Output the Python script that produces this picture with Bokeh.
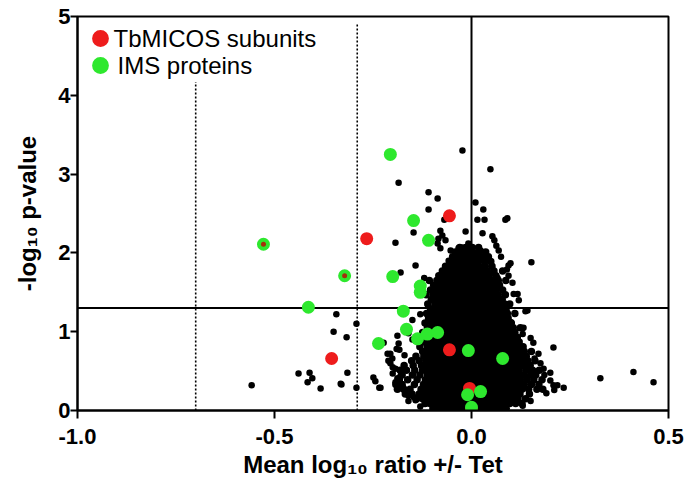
from bokeh.plotting import figure
from bokeh.models import Span, Legend, LegendItem, FixedTicker, Range1d, CustomJSTickFormatter, Label
from bokeh.embed import file_html
from bokeh.resources import INLINE

# ---------------- data ----------------
X_TICKS = [-1.0, -0.5, 0.0, 0.5]
Y_TICKS = [0, 1, 2, 3, 4, 5]
P_THRESHOLD = 1.3           # -log10(0.05)
FC_LINES_X = [-0.7, -0.29]  # dotted ratio thresholds
FC_LINES_TOP = [4.17, 4.92]
LEGEND_LABELS = ["TbMICOS subunits", "IMS proteins"]

# dense cloud of all detected proteins, listed row by row (y, [x ...])
CLOUD_Y = [0.03, 0.09, 0.15, 0.21, 0.27, 0.33, 0.39, 0.45, 0.51, 0.57, 0.63, 0.69,
           0.75, 0.81, 0.87, 0.93, 0.99, 1.05, 1.11, 1.17, 1.23, 1.29, 1.35, 1.41,
           1.47, 1.53, 1.59, 1.65, 1.71, 1.77, 1.83, 1.89, 1.95, 2.01, 2.07]
CLOUD_X = [
    [-0.098, -0.083, -0.071, -0.058, -0.044, -0.031, -0.019, -0.006, 0.008, 0.021, 0.034, 0.047, 0.060, 0.073, 0.088],
    [-0.118, -0.104, -0.090, -0.077, -0.063, -0.050, -0.036, -0.024, -0.011, 0.002, 0.015, 0.028, 0.041, 0.055, 0.068, 0.082, 0.097, 0.112, 0.128],
    [-0.139, -0.124, -0.109, -0.096, -0.082, -0.069, -0.056, -0.043, -0.030, -0.017, -0.004, 0.009, 0.022, 0.036, 0.049, 0.062, 0.075, 0.089, 0.103, 0.118, 0.137],
    [-0.168, -0.151, -0.133, -0.119, -0.105, -0.091, -0.078, -0.064, -0.051, -0.038, -0.025, -0.012, 0.001, 0.014, 0.027, 0.040, 0.053, 0.067, 0.080, 0.094, 0.108, 0.123, 0.147],
    [-0.188, -0.172, -0.156, -0.128, -0.114, -0.100, -0.086, -0.073, -0.059, -0.046, -0.033, -0.020, -0.007, 0.006, 0.019, 0.032, 0.045, 0.058, 0.071, 0.085, 0.099, 0.113, 0.128, 0.145, 0.166, 0.181],
    [-0.192, -0.176, -0.145, -0.122, -0.108, -0.094, -0.081, -0.067, -0.054, -0.041, -0.028, -0.015, -0.002, 0.011, 0.024, 0.037, 0.050, 0.063, 0.076, 0.090, 0.104, 0.119, 0.134, 0.152, 0.171],
    [-0.183, -0.162, -0.138, -0.117, -0.103, -0.089, -0.075, -0.062, -0.049, -0.036, -0.023, -0.010, 0.003, 0.016, 0.029, 0.042, 0.055, 0.068, 0.081, 0.095, 0.109, 0.124, 0.141, 0.158, 0.179],
    [-0.176, -0.150, -0.131, -0.112, -0.098, -0.084, -0.070, -0.057, -0.044, -0.031, -0.018, -0.005, 0.008, 0.021, 0.034, 0.047, 0.060, 0.073, 0.087, 0.101, 0.116, 0.132, 0.150, 0.163],
    [-0.181, -0.165, -0.144, -0.124, -0.107, -0.093, -0.079, -0.065, -0.052, -0.039, -0.026, -0.013, 0.000, 0.013, 0.026, 0.039, 0.052, 0.065, 0.078, 0.092, 0.106, 0.121, 0.138, 0.155, 0.172],
    [-0.171, -0.148, -0.127, -0.111, -0.097, -0.083, -0.069, -0.056, -0.043, -0.030, -0.017, -0.004, 0.009, 0.022, 0.035, 0.048, 0.061, 0.074, 0.088, 0.102, 0.117, 0.133, 0.149],
    [-0.152, -0.133, -0.116, -0.101, -0.087, -0.073, -0.060, -0.047, -0.034, -0.021, -0.008, 0.005, 0.018, 0.031, 0.044, 0.057, 0.070, 0.084, 0.098, 0.112, 0.127, 0.143, 0.161],
    [-0.141, -0.121, -0.105, -0.091, -0.077, -0.064, -0.051, -0.038, -0.025, -0.012, 0.001, 0.014, 0.027, 0.040, 0.053, 0.066, 0.080, 0.094, 0.108, 0.122, 0.139],
    [-0.124, -0.108, -0.094, -0.080, -0.067, -0.054, -0.041, -0.028, -0.015, -0.002, 0.011, 0.024, 0.037, 0.050, 0.063, 0.077, 0.091, 0.105, 0.119, 0.134, 0.152],
    [-0.131, -0.112, -0.097, -0.083, -0.070, -0.057, -0.044, -0.031, -0.018, -0.005, 0.008, 0.021, 0.034, 0.047, 0.060, 0.074, 0.088, 0.102, 0.116, 0.131],
    [-0.122, -0.109, -0.093, -0.079, -0.066, -0.053, -0.040, -0.027, -0.014, -0.001, 0.012, 0.025, 0.038, 0.051, 0.064, 0.078, 0.092, 0.106, 0.121],
    [-0.118, -0.101, -0.086, -0.072, -0.059, -0.046, -0.033, -0.020, -0.007, 0.006, 0.019, 0.032, 0.045, 0.058, 0.071, 0.085, 0.099, 0.116],
    [-0.124, -0.107, -0.092, -0.077, -0.063, -0.050, -0.037, -0.024, -0.011, 0.002, 0.015, 0.028, 0.041, 0.054, 0.067, 0.081, 0.096, 0.110],
    [-0.112, -0.097, -0.083, -0.069, -0.056, -0.043, -0.030, -0.017, -0.004, 0.009, 0.022, 0.035, 0.048, 0.061, 0.075, 0.090, 0.106, 0.124],
    [-0.118, -0.101, -0.087, -0.073, -0.060, -0.047, -0.034, -0.021, -0.008, 0.005, 0.018, 0.031, 0.044, 0.057, 0.071, 0.085, 0.101],
    [-0.109, -0.094, -0.080, -0.066, -0.053, -0.040, -0.027, -0.014, -0.001, 0.012, 0.025, 0.038, 0.051, 0.065, 0.080, 0.093],
    [-0.114, -0.099, -0.085, -0.071, -0.058, -0.045, -0.032, -0.019, -0.006, 0.007, 0.020, 0.033, 0.046, 0.060, 0.075, 0.091, 0.110],
    [-0.104, -0.089, -0.075, -0.062, -0.049, -0.036, -0.023, -0.010, 0.003, 0.016, 0.029, 0.043, 0.058, 0.073, 0.088],
    [-0.111, -0.093, -0.079, -0.066, -0.053, -0.040, -0.027, -0.014, -0.001, 0.012, 0.025, 0.039, 0.054, 0.069, 0.084, 0.097],
    [-0.102, -0.086, -0.072, -0.059, -0.046, -0.033, -0.020, -0.007, 0.006, 0.019, 0.033, 0.047, 0.062, 0.078],
    [-0.115, -0.097, -0.081, -0.067, -0.054, -0.041, -0.028, -0.015, -0.002, 0.011, 0.024, 0.038, 0.053, 0.068, 0.086],
    [-0.104, -0.088, -0.074, -0.061, -0.048, -0.035, -0.022, -0.009, 0.004, 0.017, 0.031, 0.046, 0.062, 0.079],
    [-0.096, -0.080, -0.066, -0.053, -0.040, -0.027, -0.014, -0.001, 0.012, 0.026, 0.041, 0.057, 0.071],
    [-0.107, -0.088, -0.072, -0.058, -0.045, -0.032, -0.019, -0.006, 0.007, 0.021, 0.036, 0.052, 0.068, 0.087],
    [-0.083, -0.066, -0.052, -0.039, -0.026, -0.013, 0.000, 0.014, 0.029, 0.045, 0.062],
    [-0.074, -0.058, -0.044, -0.031, -0.018, -0.005, 0.009, 0.024, 0.040, 0.057, 0.079],
    [-0.066, -0.050, -0.036, -0.023, -0.010, 0.004, 0.019, 0.035, 0.052],
    [-0.055, -0.040, -0.026, -0.012, 0.002, 0.017, 0.033, 0.049],
    [-0.048, -0.033, -0.019, -0.005, 0.010, 0.026, 0.043],
    [-0.041, -0.026, -0.012, 0.003, 0.019, 0.036],
    [-0.030, -0.014, 0.002, 0.018],
]

# scattered proteins outside the dense cloud
OTHER_X = [-0.023, 0.048, -0.185, -0.109, -0.086, -0.109, 0.010, 0.030, 0.015, 0.033,
           0.086, -0.069, -0.147, -0.193, -0.015, 0.028, 0.053, 0.058, 0.063, 0.069,
           -0.079, -0.074, -0.084, -0.066, -0.086, -0.079, -0.053, -0.033, -0.023, -0.008,
           -0.003, -0.142, -0.058, -0.046, 0.023, 0.094, 0.152, 0.107, 0.137, 0.129,
           0.157, 0.208, 0.175, 0.183, 0.200, 0.218, 0.234, 0.327, 0.411, 0.462,
           -0.180, -0.317, -0.315, -0.332, -0.292, -0.249, -0.231, -0.109, -0.206, -0.201,
           -0.185, -0.183, -0.343, -0.350, -0.292, -0.439, -0.411, -0.404, -0.416, -0.383,
           -0.330, -0.244, -0.234, -0.211, -0.558, -0.223, -0.193, -0.188, -0.175, -0.160,
           -0.142, -0.188, -0.213, -0.206, -0.180, -0.193, -0.173, -0.147, 0.208, 0.132,
           0.117, 0.091, 0.099, 0.094, 0.104, 0.117, 0.142, 0.056, 0.066,
           -0.160, -0.150, 0.130, 0.150, -0.190, -0.170, 0.170, 0.160, -0.200, 0.185,
           0.200, 0.210, 0.190, -0.150, -0.130, 0.100, 0.120, -0.130, -0.120, 0.090,
           0.075, -0.200, -0.160, 0.150, 0.130, -0.130]
OTHER_Y = [3.30, 3.06, 2.89, 2.77, 2.69, 2.55, 2.64, 2.55, 2.42, 2.42,
           2.42, 2.42, 2.26, 2.13, 2.27, 2.25, 2.21, 2.16, 2.09, 2.03,
           2.28, 2.22, 2.18, 2.16, 2.12, 2.06, 2.03, 2.06, 2.07, 2.12,
           2.03, 1.84, 1.90, 1.87, 2.03, 1.84, 1.88, 1.48, 1.26, 1.04,
           0.86, 0.80, 0.60, 0.53, 0.48, 0.32, 0.29, 0.41, 0.49, 0.36,
           1.75, 0.93, 0.48, 0.34, 0.29, 0.42, 0.29, 0.09, 0.72, 0.66,
           0.85, 0.77, 1.22, 1.00, 1.10, 0.47, 0.48, 0.41, 0.36, 0.28,
           0.33, 0.37, 0.29, 0.63, 0.32, 0.86, 0.53, 0.41, 0.28, 0.19,
           0.13, 0.95, 0.72, 0.60, 0.44, 0.36, 0.29, 0.17, 0.32, 1.05,
           0.93, 2.44, 1.87, 1.71, 1.62, 1.48, 1.27, 1.75, 1.68,
           0.98, 0.90, 0.97, 0.92, 0.78, 0.70, 0.72, 0.66, 0.47, 0.45,
           0.38, 0.26, 0.22, 1.15, 1.22, 1.12, 1.40, 1.55, 1.68, 1.79,
           1.95, 0.55, 0.12, 0.12, 0.06, 0.05]

# TbMICOS subunits
MICOS_X = [-0.056, -0.266, -0.355, -0.056, -0.005, 0.000]
MICOS_Y = [2.47, 2.18, 0.66, 0.77, 0.28, 0.00]

# IMS proteins
IMS_X = [-0.206, -0.147, -0.109, -0.200, -0.130, -0.130, -0.173, -0.165, -0.137, -0.112,
         -0.086, -0.236, -0.008, 0.079, -0.010, 0.023, 0.000, -0.414]
IMS_Y = [3.25, 2.41, 2.16, 1.70, 1.58, 1.50, 1.26, 1.03, 0.91, 0.97,
         0.99, 0.85, 0.76, 0.66, 0.20, 0.24, 0.04, 1.31]

# proteins belonging to both groups
BOTH_X = [-0.528, -0.322]
BOTH_Y = [2.11, 1.71]

RED = "#ee1c1c"
GREEN = "#2ee82e"
FONT = "Liberation Sans"

# ---------------- figure ----------------
BORDER_L, BORDER_R, BORDER_T, BORDER_B = 77, 21, 16, 73
W, H = 689, 483
p = figure(width=W, height=H, x_range=Range1d(-1.0, 0.5), y_range=Range1d(0, 5),
           output_backend="svg", toolbar_location=None,
           min_border_left=BORDER_L, min_border_right=BORDER_R,
           min_border_top=BORDER_T, min_border_bottom=BORDER_B)
p.xgrid.visible = False
p.ygrid.visible = False
p.outline_line_color = "black"
p.outline_line_width = 2
p.outline_line_alpha = 1.0
p.background_fill_color = "white"
p.border_fill_color = "white"

for ax in (p.xaxis[0], p.yaxis[0]):
    ax.axis_line_width = 2
    ax.major_tick_line_width = 2
    ax.major_tick_in = 0
    ax.minor_tick_out = 0
    ax.minor_tick_in = 0
    ax.major_label_text_font = FONT
    ax.major_label_text_font_style = "bold"
    ax.major_label_text_font_size = "22px"
    ax.major_label_text_color = "black"
    ax.axis_label_text_font = FONT
    ax.axis_label_text_font_style = "bold"
    ax.axis_label_text_font_size = "24px"
    ax.axis_label_text_color = "black"

p.xaxis.ticker = FixedTicker(ticks=X_TICKS)
p.xaxis.formatter = CustomJSTickFormatter(code="return tick.toFixed(1);")
p.yaxis.ticker = FixedTicker(ticks=Y_TICKS)
p.xaxis.major_tick_out = 8
p.yaxis.major_tick_out = 7
p.xaxis.major_label_standoff = 10
p.yaxis.major_label_standoff = 0
p.xaxis.axis_label = "Mean log\u2081\u2080 ratio +/- Tet"
p.yaxis.axis_label = "-log\u2081\u2080 p-value"
p.xaxis.axis_label_standoff = 4
p.yaxis.axis_label_standoff = 14

# reference lines
p.add_layout(Span(location=0.0, dimension="height", line_color="black", line_width=2, level="underlay"))
p.add_layout(Span(location=P_THRESHOLD, dimension="width", line_color="black", line_width=2, level="underlay"))
p.segment(x0=FC_LINES_X, y0=[0, 0], x1=FC_LINES_X, y1=FC_LINES_TOP,
          line_color="black", line_width=1.6, line_dash="2 2")

# points
cx, cy = [], []
for yv, row in zip(CLOUD_Y, CLOUD_X):
    for xv in row:
        cx.append(xv)
        cy.append(yv)
p.scatter(cx, cy, size=7.5, color="black", line_color=None)
p.scatter(OTHER_X, OTHER_Y, size=6.5, color="black", line_color=None)
r_red = p.scatter(MICOS_X, MICOS_Y, size=13, color=RED, line_color=None)
r_green = p.scatter(IMS_X, IMS_Y, size=13, color=GREEN, line_color=None)
p.scatter(BOTH_X, BOTH_Y, size=13, color=GREEN, line_color=None)
p.scatter(BOTH_X, BOTH_Y, size=5, color="#a3300c", line_color=None)

# legend: marker boxes (one per entry so rows sit close) + text labels beside them
FRAME_H = H - BORDER_T - BORDER_B
for label, rend, row_center, text_x in ((LEGEND_LABELS[0], r_red, 22, 36),
                                        (LEGEND_LABELS[1], r_green, 49, 40)):
    lg = Legend(items=[LegendItem(label=" ", renderers=[rend])],
                location=(2, FRAME_H - row_center - 21), margin=0, padding=0, spacing=0,
                glyph_width=42, glyph_height=42, label_standoff=0, label_width=1,
                border_line_alpha=0, background_fill_alpha=0,
                label_text_font=FONT, label_text_font_size="24px")
    p.add_layout(lg)
    p.add_layout(Label(x=text_x, y=FRAME_H - row_center, x_units="screen", y_units="screen",
                       text=label, text_font=FONT, text_font_size="24px",
                       text_color="black", text_baseline="middle", text_align="left"))

open("out.html", "w").write(file_html(p, INLINE))
